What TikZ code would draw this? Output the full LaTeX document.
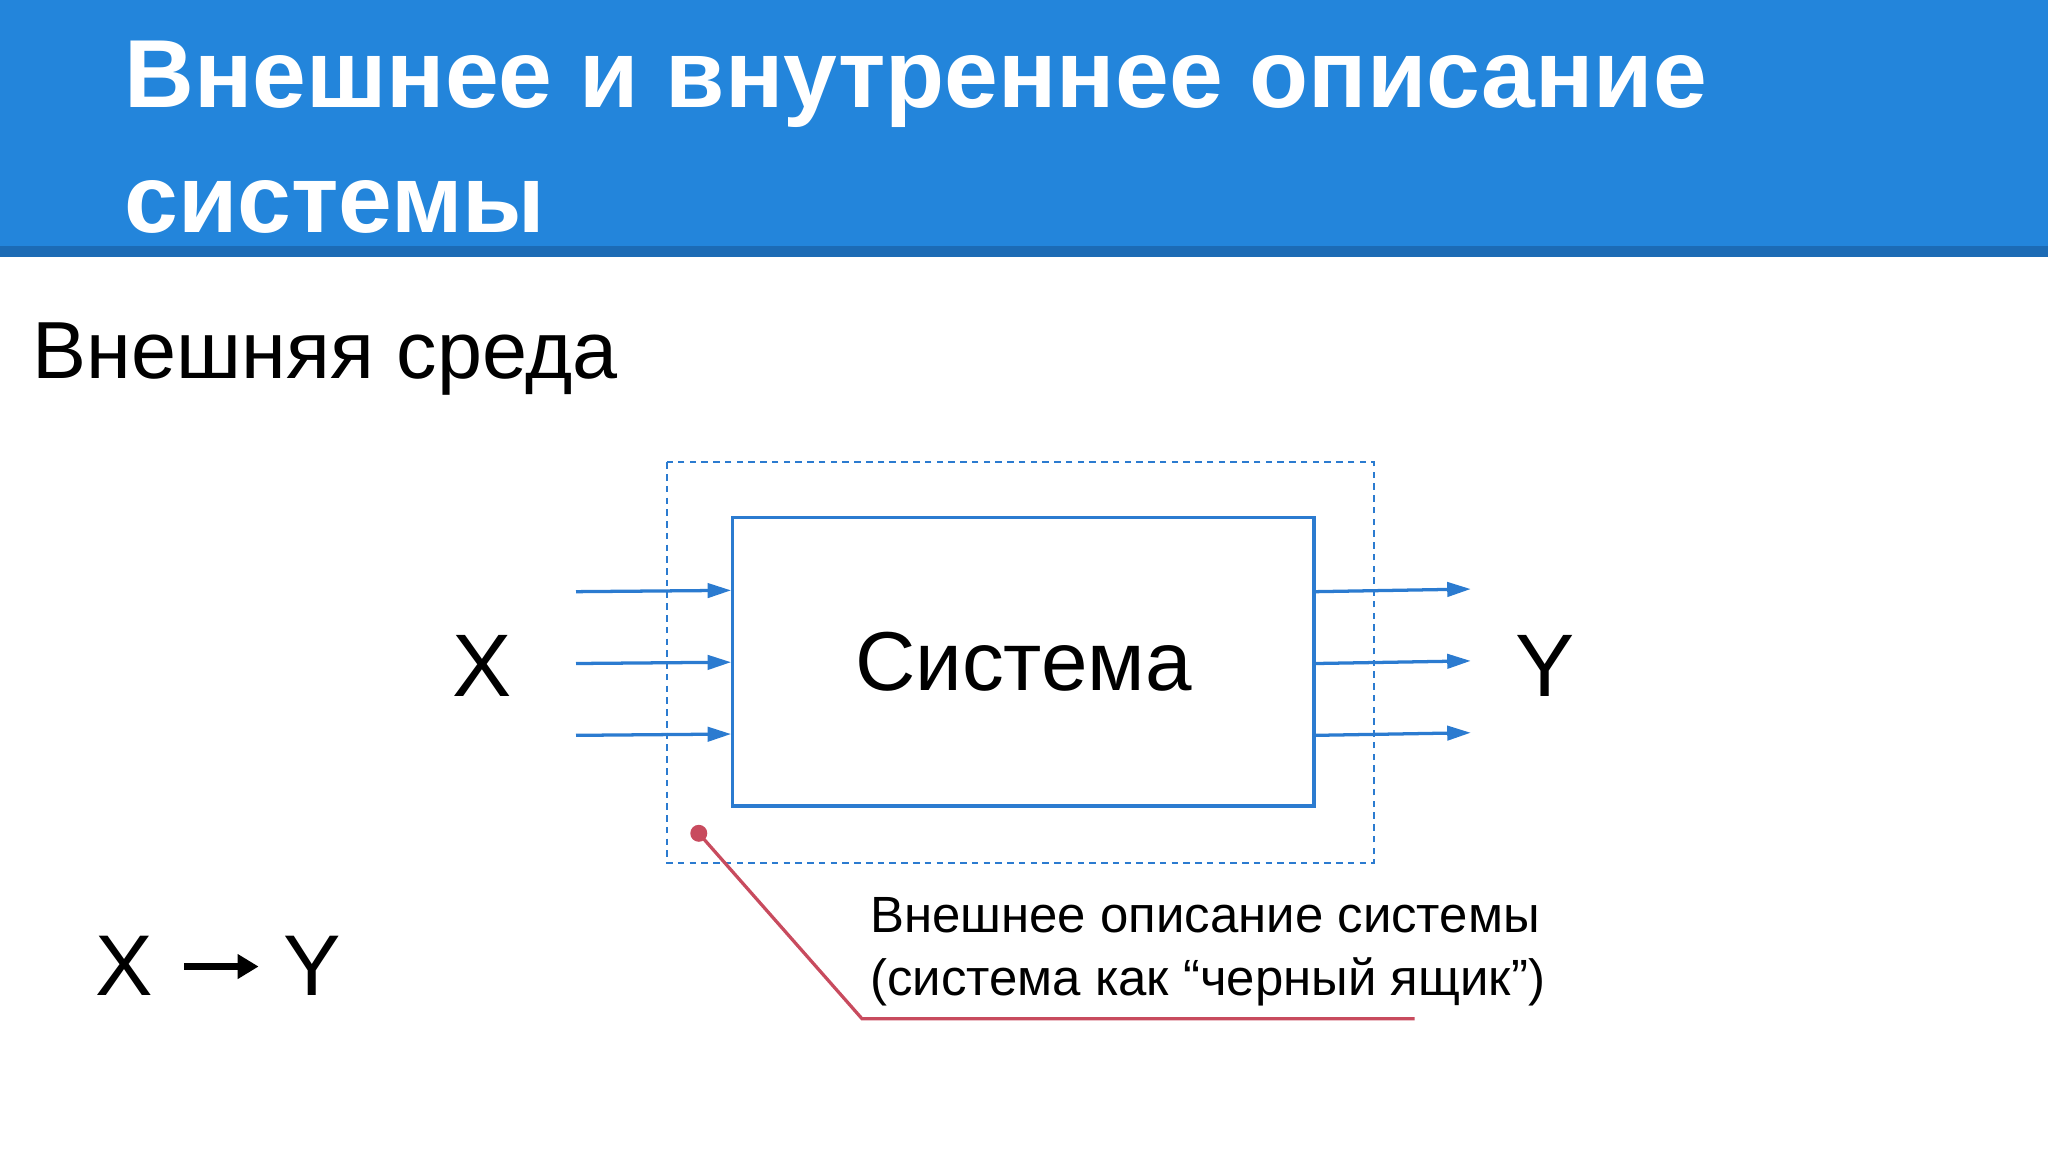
\documentclass[tikz,border=0pt]{standalone}
\usepackage{fontspec}
\setmainfont{Liberation Sans}
\usetikzlibrary{arrows.meta}
\definecolor{band}{HTML}{2385DB}
\definecolor{bandd}{HTML}{1C6BB5}
\definecolor{ln}{HTML}{2B7BD0}
\definecolor{rd}{HTML}{C84B5E}
\tikzset{lbl/.style={anchor=base west,inner sep=0pt},
 arr/.style={ln,line width=2.5pt,-{Triangle[length=18pt,width=11pt]}}}
\begin{document}
\begin{tikzpicture}[x=1pt,y=-1pt]
\useasboundingbox (0,0) rectangle (1568,882);
\fill[band] (0,0) rectangle (1568,190);
\fill[bandd] (0,188) rectangle (1568,197);
\node[lbl,text=white,font=\fontsize{74}{90}\selectfont\bfseries] (t1) at (95,82) {Внешнее и внутреннее описание};
\node[lbl,text=white,font=\fontsize{74}{90}\selectfont\bfseries] (t2) at (95,178) {системы};
\node[lbl,font=\fontsize{62}{70}\selectfont] (env) at (25,290) {Внешняя среда};
\draw[ln,line width=1.5pt,dash pattern=on 5pt off 4pt] (511,354) rectangle (1052,661);
\node[draw=ln,line width=2.5pt,minimum width=445pt,minimum height=221pt,inner sep=0pt,font=\fontsize{64}{70}\selectfont] (sys) at (783.5,506.5) {Система};
\foreach \y/\n in {452/a,507/b,562/c}{
 \coordinate (i\n) at (441,\y+1);
 \coordinate (o\n) at (1126,\y-1);
 \draw[arr] (i\n) -- (sys.west |- 0,\y);
 \draw[arr] (sys.east |- 0,\y+1) -- (o\n);
}
\node[font=\fontsize{68}{70}\selectfont] (X) at (369,510) {X};
\node[font=\fontsize{68}{70}\selectfont] (Y) at (1183,510) {Y};
\fill[rd] (535,638) circle (6.5pt) coordinate (dot);
\coordinate (k) at (660,780);
\coordinate (e) at (1083,780);
\draw[rd,line width=2.5pt] (dot) -- (k) -- (e);
\node[lbl,font=\fontsize{39}{46}\selectfont] (d1) at (666,714) {Внешнее описание системы};
\node[lbl,font=\fontsize{39}{46}\selectfont] (d2) at (666,762) {(система как “черный ящик”)};
\node[lbl,font=\fontsize{66}{70}\selectfont] (xy) at (73,762) {X};
\node[lbl,font=\fontsize{66}{70}\selectfont] (yy) at (217,762) {Y};
\draw[line width=5pt,-{Triangle[length=16pt,width=18pt]}] (141,740) -- (198,740);
\end{tikzpicture}
\end{document}
